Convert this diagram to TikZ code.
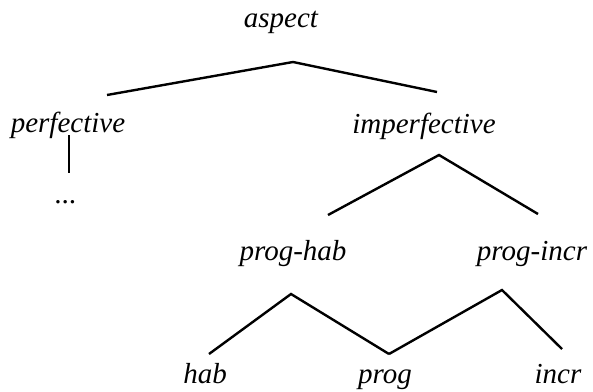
\documentclass[tikz,border=0pt]{standalone}
\usepackage{fontspec}
\setmainfont{Liberation Serif}
\tikzset{
  lbl/.style={anchor=base, inner sep=0pt, font=\fontsize{14.5pt}{17pt}\selectfont\itshape},
  branch/.style={line width=1.2pt, line join=miter, black}
}
\begin{document}
\begin{tikzpicture}[x=0.5pt,y=-0.5pt]
\useasboundingbox (0,0) rectangle (593,391);
% labels
\node[lbl] (aspect) at (281,27) {aspect};
\node[lbl] (perf) at (68,132) {perfective};
\node[lbl] (imperf) at (424,133) {imperfective};
\node[lbl] (dots) at (66,203) {...};
\node[lbl] (proghab) at (293,260) {prog-hab};
\node[lbl] (progincr) at (532,260) {prog-incr};
\node[lbl] (hab) at (205,383) {hab};
\node[lbl] (prog) at (385,383) {prog};
\node[lbl] (incr) at (558,383) {incr};
% branch points
\coordinate (a0) at (293,62);
\coordinate (a1) at (107,95);
\coordinate (a2) at (437,92);
\coordinate (p0) at (69,135);
\coordinate (p1) at (69,173);
\coordinate (i0) at (439,155);
\coordinate (i1) at (328,215);
\coordinate (i2) at (538,214);
\coordinate (h0) at (291,294);
\coordinate (h1) at (209,354);
\coordinate (h2) at (389,354);
\coordinate (c0) at (502,290);
\coordinate (c1) at (562,349);
% connectors
\draw[branch] (a1) -- (a0) -- (a2);
\draw[branch] (p0) -- (p1);
\draw[branch] (i1) -- (i0) -- (i2);
\draw[branch] (h1) -- (h0) -- (h2);
\draw[branch] (h2) -- (c0) -- (c1);
\end{tikzpicture}
\end{document}
